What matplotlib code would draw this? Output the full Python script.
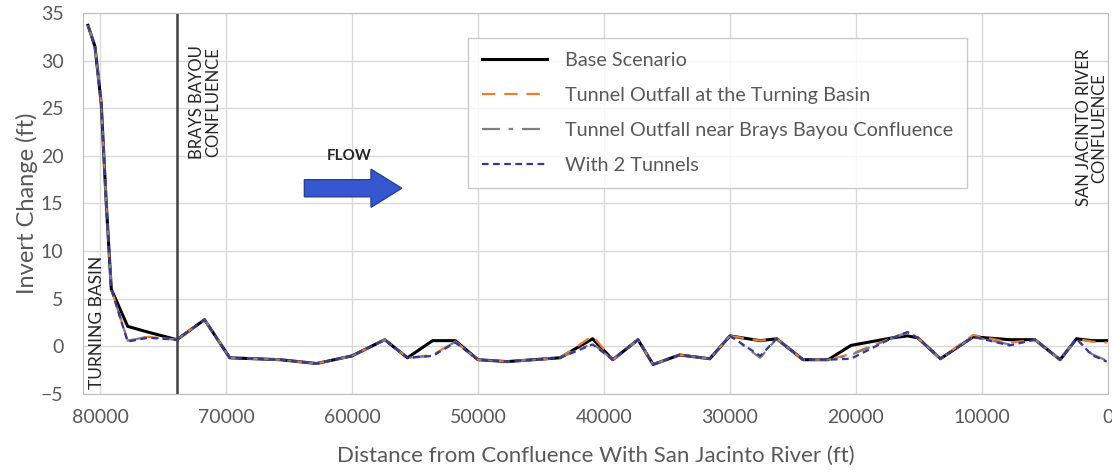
import matplotlib.pyplot as plt
import matplotlib.patches as mpatches

plt.rcParams['font.family'] = ['Lato', 'DejaVu Sans']

# Distance from confluence (ft) and invert change (ft) for each scenario
dist = [80950, 80400, 79900, 79500, 79100, 77800, 76200, 73900, 71700, 69700,
        65700, 62800, 60000, 57400, 55600, 53600, 51800, 50000, 47700, 43500,
        40900, 39300, 37300, 36100, 34000, 31600, 30000, 27600, 26300, 24200,
        22200, 20400, 17100, 15900, 15100, 13300, 10700, 7800, 5800, 3800,
        2500, 1300, 100]
base = [33.7, 31.5, 25.5, 15.0, 6.0, 2.1, 1.5, 0.7, 2.8, -1.2,
        -1.4, -1.8, -1.0, 0.7, -1.2, 0.6, 0.6, -1.4, -1.6, -1.2,
        0.8, -1.4, 0.7, -1.9, -0.9, -1.3, 1.1, 0.6, 0.8, -1.4,
        -1.4, 0.1, 0.9, 1.1, 0.9, -1.3, 1.0, 0.7, 0.7, -1.4,
        0.8, 0.6, 0.6]
turning = [33.7, 31.5, 25.5, 15.0, 6.0, 0.6, 1.0, 0.7, 2.8, -1.2,
           -1.4, -1.8, -1.0, 0.7, -1.2, -0.9, 0.5, -1.4, -1.6, -1.2,
           1.1, -1.4, 0.7, -1.9, -0.9, -1.3, 1.1, 0.6, 0.8, -1.4,
           -1.4, -0.8, 0.9, 1.5, 0.9, -1.3, 1.2, 0.4, 0.7, -1.4,
           0.8, 0.5, 0.4]
near = [33.7, 31.5, 25.5, 15.0, 6.0, 0.6, 1.0, 0.7, 2.8, -1.2,
        -1.4, -1.8, -1.0, 0.7, -1.2, -1.0, 0.5, -1.4, -1.6, -1.2,
        0.3, -1.4, 0.7, -1.9, -0.9, -1.3, 1.1, -1.2, 0.8, -1.4,
        -1.4, -0.9, 0.9, 1.4, 0.9, -1.3, 1.0, 0.2, 0.7, -1.4,
        0.8, -0.8, -1.5]
two = [33.7, 31.5, 25.5, 15.0, 6.0, 0.5, 0.9, 0.7, 2.8, -1.2,
       -1.4, -1.8, -1.0, 0.7, -1.2, -1.0, 0.4, -1.4, -1.6, -1.2,
       0.2, -1.4, 0.7, -1.9, -0.9, -1.3, 1.1, -1.0, 0.8, -1.4,
       -1.4, -1.3, 0.9, 1.5, 0.9, -1.3, 1.0, 0.1, 0.7, -1.4,
       0.8, -0.9, -1.6]

GRID = '#D9D9D9'
TXT = '#595959'

fig = plt.figure(figsize=(11.12, 4.74), dpi=100)
ax = fig.add_axes([0.0746, 0.1688, 0.9218, 0.8038])

ax.plot(dist, base, color='black', lw=2.2, label='Base Scenario', zorder=3)
ax.plot(dist, turning, color='#ED7D31', lw=1.6, ls=(0, (6, 4)),
        label='Tunnel Outfall at the Turning Basin', zorder=4)
ax.plot(dist, near, color='#7F7F7F', lw=1.6, ls=(0, (8, 4, 2, 4)),
        label='Tunnel Outfall near Brays Bayou Confluence', zorder=4)
ax.plot(dist, two, color='#33399A', lw=1.6, ls=(0, (3, 2)),
        label='With 2 Tunnels', zorder=5)

# Brays Bayou confluence marker
ax.axvline(73900, color='#404040', lw=1.8, zorder=2)

ax.set_xlim(81350, 0)
ax.set_ylim(-5, 35)
ax.set_xticks(range(80000, -1, -10000))
ax.set_yticks(range(-5, 36, 5))
ax.grid(True, color=GRID, lw=1)
ax.set_axisbelow(True)
for s in ax.spines.values():
    s.set_color('#BFBFBF')
ax.tick_params(length=0, labelsize=14, labelcolor=TXT)
ax.tick_params(axis='x', pad=11)
ax.tick_params(axis='y', pad=14)

ax.set_xlabel('Distance from Confluence With San Jacinto River (ft)',
              fontsize=16, color=TXT, labelpad=14)
ax.set_ylabel('Invert Change (ft)', fontsize=17, color=TXT, labelpad=2)

ax.text(0.0135, 0.012, 'TURNING BASIN', transform=ax.transAxes, rotation=90,
        ha='center', va='bottom', fontsize=12.5, color='#262626')
ax.text(0.119, 0.915, 'BRAYS BAYOU\nCONFLUENCE', transform=ax.transAxes,
        rotation=90, ha='center', va='top', fontsize=12, color='#262626',
        multialignment='center', linespacing=1.0)
ax.text(0.984, 0.905, 'SAN JACINTO RIVER\nCONFLUENCE', transform=ax.transAxes,
        rotation=90, ha='center', va='top', fontsize=12, color='#262626',
        multialignment='center', linespacing=1.0)

# Flow arrow
ax.text(0.26, 0.625, 'FLOW', transform=ax.transAxes, ha='center',
        va='center', fontsize=11, fontweight='bold', color='#262626')
arrow = mpatches.FancyArrow(0.216, 0.54, 0.065, 0, width=0.045,
                            head_width=0.1, head_length=0.03,
                            length_includes_head=False, transform=ax.transAxes,
                            facecolor='#3558D0', edgecolor='#2A3F9A', lw=1,
                            zorder=6)
ax.add_patch(arrow)

leg = ax.legend(loc='upper left', bbox_to_anchor=(0.3756, 0.934), fontsize=14.3,
                frameon=True, fancybox=False, edgecolor='#BFBFBF',
                handlelength=3.3, handletextpad=0.9, labelspacing=0.9,
                borderpad=0.7, borderaxespad=0)
for t in leg.get_texts():
    t.set_color(TXT)

fig.savefig('out.png', dpi=100, facecolor='white')
